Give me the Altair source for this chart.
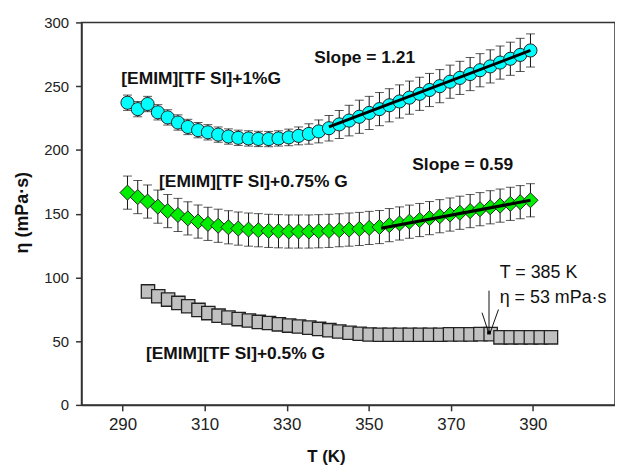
import altair as alt
import pandas as pd

# ---------------- data ----------------
T_grid = [291.2, 293.7, 296.1, 298.6, 301.0, 303.5, 305.9, 308.4, 310.8, 313.3,
          315.8, 318.2, 320.7, 323.1, 325.6, 328.0, 330.5, 332.9, 335.4, 337.8,
          340.3, 342.8, 345.2, 347.7, 350.1, 352.6, 355.0, 357.5, 359.9, 362.4,
          364.8, 367.3, 369.8, 372.2, 374.7, 377.1, 379.6, 382.0, 384.5, 386.9, 389.4]

eta_1 = [237, 232, 236, 229.5, 225.5, 221.5, 218, 215.5, 213.8, 212,
         210.5, 209.5, 209, 208.6, 208.5, 209, 209.8, 211, 212.5, 214.5,
         217, 220, 223, 226, 229, 232, 235, 238, 241, 244,
         247, 250, 253.5, 256.5, 259.5, 262.5, 265.5, 268.5, 271.5, 274.5, 278]
err_1 = [6, 6, 6, 6, 6, 6, 6, 6, 6, 6,
         6, 6, 6, 6, 6, 6, 6.5, 7, 8, 9,
         10, 11, 12, 13, 13, 13, 13, 13, 13, 13,
         13, 13, 13, 13, 13, 13, 13, 13, 13, 13, 13]

eta_075 = [166.5, 163, 159.5, 155.5, 152, 149, 146.3, 143.8, 142, 140.5,
           139.3, 138.3, 137.5, 137, 136.5, 136.2, 136, 136, 136, 136.2,
           136.5, 137, 137.5, 138, 138.8, 139.5, 141, 142.3, 143.7, 145,
           146.5, 148, 149.3, 150.7, 152, 153.5, 155, 156.3, 157.7, 159, 160.5]
err_075 = [13] * 41

T_05 = [296.2, 298.7, 301.1, 303.6, 306.0, 308.5, 310.9, 313.4, 315.8, 318.3,
        320.8, 323.2, 325.7, 328.1, 330.6, 333.0, 335.5, 337.9, 340.4, 342.8,
        345.3, 347.8, 350.2, 352.7, 355.1, 357.6, 360.0, 362.5, 364.9, 367.4,
        369.8, 372.3, 374.8, 377.2, 379.7, 382.1, 384.6, 387.0, 389.5, 391.9, 394.4]
eta_05 = [89, 85.2, 82.6, 80, 77.4, 74.5, 72, 70, 68.5, 67.3,
          66.2, 65.1, 64.2, 63.2, 62.2, 61.5, 60.6, 59.6, 58.6, 57.6,
          56.6, 55.8, 55.2, 55, 55, 55, 55, 55, 55, 55,
          55.3, 55.3, 55.3, 55.5, 55.5, 53, 53, 53, 53, 53, 53]

fit1_T = [340.3, 389.4]
fit1_eta = [218, 278]
fit2_T = [353.0, 389.4]
fit2_eta = [138.5, 160.5]

x_ticks = [290, 310, 330, 350, 370, 390]
y_ticks = [0, 50, 100, 150, 200, 250, 300]

bold_labels = ["[EMIM][TF SI]+1%G", "Slope = 1.21", "[EMIM][TF SI]+0.75% G",
               "Slope = 0.59", "[EMIM][TF SI]+0.5% G"]
bold_T = [289.7, 336.7, 298.9, 360.6, 295.7]
bold_eta = [255.6, 271.7, 174.8, 187.8, 39.7]

note_labels = ["T = 385 K", "η = 53 mPa·s"]
note_T = [381.9, 381.9]
note_eta = [103.4, 83.9]

arrow_T = [379.3, 377.6, 381.6]
arrow_eta = [89.6, 72.3, 74.8]
arrow_T2 = [379.3, 379.2, 379.6]
arrow_eta2 = [56.7, 56.7, 56.7]

# ---------------- frames ----------------
FONT = "Liberation Sans"
s1 = pd.DataFrame({"T": T_grid, "eta": eta_1,
                   "lo": [e - d for e, d in zip(eta_1, err_1)],
                   "hi": [e + d for e, d in zip(eta_1, err_1)]})
s2 = pd.DataFrame({"T": T_grid, "eta": eta_075,
                   "lo": [e - d for e, d in zip(eta_075, err_075)],
                   "hi": [e + d for e, d in zip(eta_075, err_075)]})
s3 = pd.DataFrame({"T": T_05, "eta": eta_05})
f1 = pd.DataFrame({"T": fit1_T, "eta": fit1_eta})
f2 = pd.DataFrame({"T": fit2_T, "eta": fit2_eta})
bl = pd.DataFrame({"T": bold_T, "eta": bold_eta, "text": bold_labels})
nl = pd.DataFrame({"T": note_T, "eta": note_eta, "text": note_labels})
ar = pd.DataFrame({"T": arrow_T, "eta": arrow_eta, "T2": arrow_T2, "eta2": arrow_eta2})
ad = pd.DataFrame({"T": [arrow_T2[0]], "eta": [arrow_eta2[0]]})

xs = alt.Scale(domain=[280, 410], nice=False, zero=False)
ys = alt.Scale(domain=[0, 300], nice=False)

x_axis = alt.Axis(values=x_ticks, title="T (K)", grid=False,
                  labelFontSize=17, labelFont=FONT, labelColor="#222",
                  titleFontSize=17, titleFont=FONT, titleFontWeight="bold", titleColor="#111",
                  tickSize=6, tickWidth=1.5, tickColor="#333",
                  domainColor="#333", domainWidth=1.5, labelPadding=6,
                  titleX=246, titleY=52, titleAlign="center", titleBaseline="middle")
y_axis = alt.Axis(values=y_ticks, title="η (mPa·s)", grid=False,
                  labelFontSize=15, labelFont=FONT, labelColor="#222",
                  titleFontSize=18, titleFont=FONT, titleFontWeight="bold", titleColor="#111",
                  tickSize=6, tickWidth=1.5, tickColor="#333",
                  domainColor="#333", domainWidth=1.5, labelPadding=7,
                  titleX=-59, titleY=191, titleAngle=270, titleAlign="center",
                  titleBaseline="middle")

X = alt.X("T:Q", scale=xs, axis=x_axis)
Y = alt.Y("eta:Q", scale=ys, axis=y_axis)
YLO = alt.Y("lo:Q", scale=ys, axis=y_axis)
YHI = alt.Y("hi:Q", scale=ys, axis=y_axis)

gray = alt.Chart(s3).mark_point(shape="square", filled=True, size=180, fill="#c0c0c0",
                                stroke="#222", strokeWidth=1.3, opacity=1).encode(x=X, y=Y)

green = alt.Chart(s2).mark_point(shape="diamond", filled=True, size=230, fill="#00ee00",
                                 stroke="#222", strokeWidth=1, opacity=1).encode(x=X, y=Y)
g_bar = alt.Chart(s2).mark_rule(color="#111", strokeWidth=1).encode(x=X, y=YLO, y2="hi:Q")
g_cap_lo = alt.Chart(s2).mark_tick(orient="horizontal", size=9, thickness=1, color="#111").encode(x=X, y=YLO)
g_cap_hi = alt.Chart(s2).mark_tick(orient="horizontal", size=9, thickness=1, color="#111").encode(x=X, y=YHI)
g_fit = alt.Chart(f2).mark_line(color="#000", strokeWidth=3).encode(x=X, y=Y)

cyan = alt.Chart(s1).mark_point(shape="circle", filled=True, size=175, fill="#00ffff",
                                stroke="#222", strokeWidth=1, opacity=1).encode(x=X, y=Y)
c_bar = alt.Chart(s1).mark_rule(color="#111", strokeWidth=1).encode(x=X, y=YLO, y2="hi:Q")
c_cap_lo = alt.Chart(s1).mark_tick(orient="horizontal", size=9, thickness=1, color="#111").encode(x=X, y=YLO)
c_cap_hi = alt.Chart(s1).mark_tick(orient="horizontal", size=9, thickness=1, color="#111").encode(x=X, y=YHI)
c_fit = alt.Chart(f1).mark_line(color="#000", strokeWidth=3).encode(x=X, y=Y)

btxt = alt.Chart(bl).mark_text(align="left", baseline="middle", font=FONT, fontSize=17.5,
                               fontWeight="bold", color="#111").encode(x=X, y=Y, text="text:N")
ntxt = alt.Chart(nl).mark_text(align="left", baseline="middle", font=FONT, fontSize=18,
                               color="#111").encode(x=X, y=Y, text="text:N")
arrow = alt.Chart(ar).mark_rule(color="#111", strokeWidth=1).encode(
    x=X, y=Y, x2="T2:Q", y2="eta2:Q")
adot = alt.Chart(ad).mark_point(shape="square", filled=True, size=14, color="#000", opacity=1).encode(x=X, y=Y)

chart = alt.layer(
    gray, g_bar, g_cap_lo, g_cap_hi, green, g_fit,
    c_bar, c_cap_lo, c_cap_hi, cyan, c_fit,
    btxt, ntxt, arrow, adot
).properties(
    width=537, height=385,
    autosize=alt.AutoSizeParams(type="none"),
    padding={"left": 74, "top": 13, "right": 0, "bottom": 60},
    background="white",
).configure_view(stroke="#333", strokeWidth=1.5)

chart.save("out.html", embed_options={"renderer": "svg", "actions": False})
